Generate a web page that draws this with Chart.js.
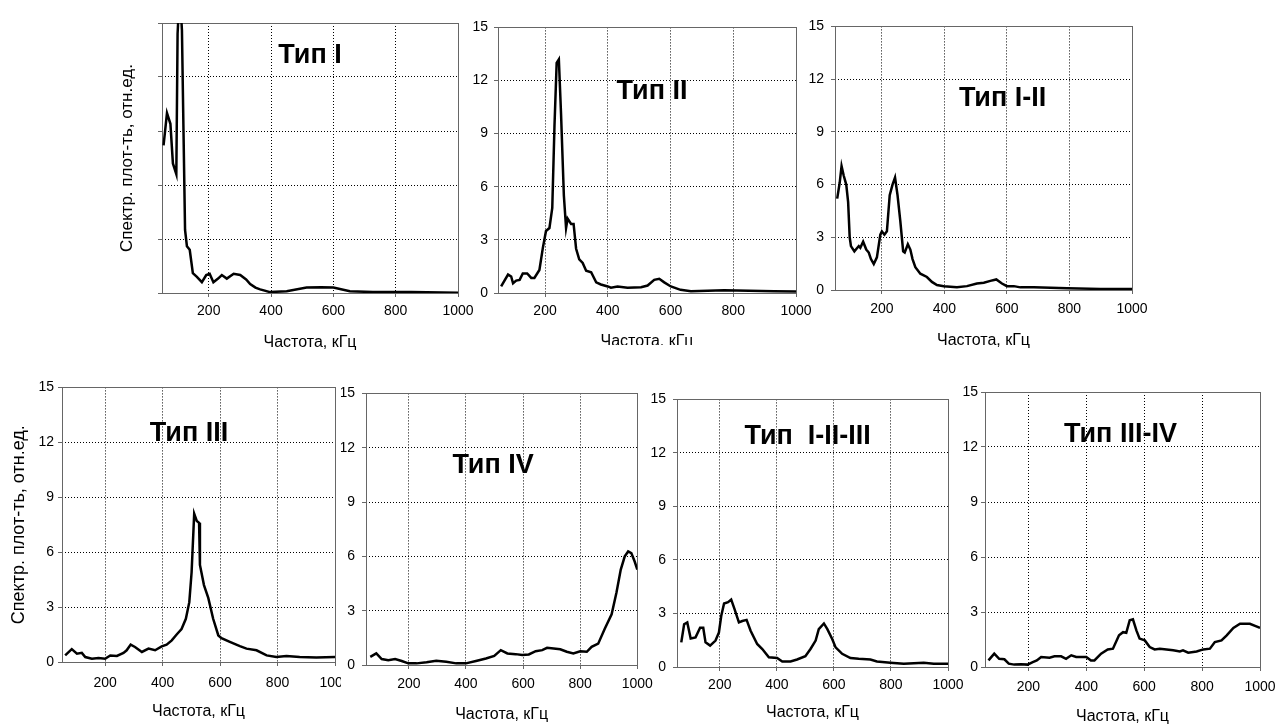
<!DOCTYPE html>
<html>
<head>
<meta charset="utf-8">
<script src="https://cdn.jsdelivr.net/npm/chart.js@4.4.1/dist/chart.umd.min.js"></script>
<style>
  html, body { margin: 0; padding: 0; background: #fff; }
  body { width: 1277px; height: 725px; position: relative; overflow: hidden; }
  .panel { position: absolute; overflow: hidden; }
  .panel canvas { display: block; }
</style>
</head>
<body>
<script>
// Spectral density curves (frequency in kHz, density in rel. units)
const type1Freq = [55, 66, 77, 85, 96, 100, 104, 110, 114, 119, 124, 130, 139, 149, 162, 178, 192, 203, 215, 230, 242, 258, 280, 301, 320, 333, 350, 365, 397, 450, 514, 560, 600, 653, 727, 850, 1000];
const type1Val = [8.2, 10.0, 9.4, 7.2, 6.6, 14.4, 15.8, 15.8, 14.6, 9.0, 3.5, 2.6, 2.4, 1.1, 0.9, 0.6, 1.0, 1.07, 0.6, 0.8, 1.0, 0.8, 1.07, 1.0, 0.75, 0.5, 0.3, 0.2, 0.05, 0.1, 0.3, 0.32, 0.3, 0.1, 0.05, 0.05, 0.02];

const type2Freq = [60, 82, 92, 98, 108, 119, 129, 143, 156, 166, 182, 193, 203, 214, 223, 230, 237, 244, 251, 260, 267, 272, 283, 291, 299, 309, 320, 331, 347, 363, 378, 400, 410, 431, 463, 506, 527, 548, 564, 580, 601, 632, 665, 771, 930, 1000];
const type2Val = [0.37, 1.04, 0.93, 0.55, 0.7, 0.74, 1.1, 1.1, 0.85, 0.85, 1.3, 2.55, 3.5, 3.67, 4.8, 9.4, 13.0, 13.2, 10.1, 5.5, 3.67, 4.2, 3.9, 3.9, 2.5, 1.9, 1.7, 1.26, 1.17, 0.6, 0.48, 0.37, 0.3, 0.37, 0.3, 0.33, 0.42, 0.74, 0.8, 0.6, 0.37, 0.18, 0.1, 0.15, 0.1, 0.08];

const type12Freq = [57, 65, 71, 78, 86, 92, 97, 101, 112, 126, 131, 140, 150, 158, 165, 174, 184, 195, 200, 208, 216, 225, 234, 242, 250, 259, 268, 273, 283, 291, 298, 307, 323, 344, 360, 376, 398, 440, 472, 504, 526, 547, 566, 584, 600, 622, 643, 686, 793, 899, 1000];
const type12Val = [5.2, 6.1, 7.05, 6.5, 6.0, 5.0, 3.0, 2.5, 2.2, 2.5, 2.4, 2.75, 2.3, 2.13, 1.76, 1.48, 1.86, 3.15, 3.34, 3.15, 3.34, 5.4, 6.0, 6.4, 5.4, 3.9, 2.2, 2.13, 2.6, 2.3, 1.76, 1.3, 0.93, 0.74, 0.46, 0.28, 0.22, 0.15, 0.22, 0.37, 0.41, 0.52, 0.6, 0.37, 0.22, 0.22, 0.15, 0.15, 0.1, 0.06, 0.05];

const type3Freq = [61, 84, 102, 119, 131, 154, 177, 200, 218, 241, 264, 275, 289, 304, 328, 351, 374, 397, 414, 432, 449, 466, 481, 493, 501, 510, 519, 527, 530, 544, 559, 576, 594, 605, 634, 669, 692, 727, 762, 796, 831, 877, 935, 1000];
const type3Val = [0.36, 0.7, 0.45, 0.5, 0.27, 0.18, 0.22, 0.18, 0.36, 0.33, 0.5, 0.64, 0.95, 0.82, 0.55, 0.73, 0.64, 0.85, 0.95, 1.18, 1.5, 1.8, 2.36, 3.27, 4.9, 8.1, 7.7, 7.6, 5.3, 4.2, 3.5, 2.36, 1.45, 1.3, 1.1, 0.87, 0.73, 0.64, 0.36, 0.27, 0.33, 0.27, 0.24, 0.27];

const type4Freq = [65, 86, 105, 128, 152, 175, 198, 227, 262, 296, 331, 366, 400, 435, 470, 499, 522, 545, 574, 597, 620, 644, 667, 684, 707, 730, 753, 776, 800, 823, 840, 863, 886, 910, 927, 942, 956, 968, 979, 991, 1000];
const type4Val = [0.45, 0.64, 0.33, 0.27, 0.33, 0.22, 0.09, 0.09, 0.15, 0.24, 0.18, 0.09, 0.09, 0.22, 0.36, 0.5, 0.82, 0.64, 0.6, 0.55, 0.58, 0.76, 0.82, 0.95, 0.91, 0.87, 0.73, 0.64, 0.76, 0.73, 1.0, 1.18, 2.0, 2.8, 4.0, 5.27, 6.0, 6.27, 6.18, 5.7, 5.27];

const type123Freq = [65, 75, 86, 98, 115, 131, 142, 150, 166, 185, 197, 205, 215, 229, 240, 252, 267, 279, 294, 308, 331, 349, 372, 401, 419, 448, 471, 500, 518, 536, 547, 565, 577, 594, 606, 629, 658, 687, 728, 751, 798, 845, 915, 950, 1000];
const type123Val = [1.38, 2.4, 2.5, 1.6, 1.66, 2.2, 2.2, 1.38, 1.2, 1.48, 1.94, 2.86, 3.56, 3.63, 3.78, 3.23, 2.5, 2.58, 2.64, 2.03, 1.29, 1.01, 0.55, 0.5, 0.31, 0.31, 0.42, 0.61, 1.01, 1.48, 2.12, 2.44, 2.12, 1.57, 1.1, 0.74, 0.5, 0.46, 0.42, 0.31, 0.24, 0.18, 0.24, 0.18, 0.18];

const type34Freq = [62, 82, 99, 117, 132, 151, 174, 197, 215, 229, 244, 273, 290, 313, 330, 348, 365, 382, 400, 416, 428, 451, 474, 492, 513, 527, 538, 550, 561, 573, 584, 602, 619, 636, 654, 677, 700, 723, 734, 752, 781, 804, 827, 844, 867, 885, 908, 931, 965, 983, 1000];
const type34Val = [0.36, 0.73, 0.45, 0.42, 0.18, 0.13, 0.15, 0.13, 0.27, 0.36, 0.55, 0.51, 0.58, 0.58, 0.45, 0.64, 0.55, 0.55, 0.55, 0.36, 0.36, 0.73, 0.96, 1.0, 1.73, 1.9, 1.87, 2.55, 2.6, 2.0, 1.55, 1.45, 1.09, 0.96, 1.0, 0.96, 0.91, 0.85, 0.91, 0.78, 0.85, 0.96, 1.0, 1.36, 1.45, 1.73, 2.13, 2.36, 2.36, 2.24, 2.13];

// Axis ticks
const freqMin = 50;
const freqMax = 1000;
const freqStep = 200;
const densityMax = 15;
const densityStep = 3;

const xTitle = 'Частота, кГц';
const yTitle = 'Спектр. плот-ть, отн.ед.';

const FONT = "'Liberation Sans', Arial, sans-serif";

const rowStyle = {
    top: { tick: 14, title: 16, yTitle: 17, label: 27 },
    bottom: { tick: 14, title: 16, yTitle: 18, label: 27 }
};

// plot = chart area [l, t, r, b], box = canvas [l, t, r, b] in page pixels
const panels = [
    { label: 'Тип I', freq: type1Freq, vals: type1Val, labelAt: [525, 13.2], row: 'top',
      plot: [162, 23, 458, 293], box: [110, 13, 490, 356], yLabels: false, yGap: 10,
      tickY: 311, titleY: 343, yTitleX: 127.5 },
    { label: 'Тип II', freq: type2Freq, vals: type2Val, labelAt: [541, 11.4], row: 'top',
      plot: [498, 23, 796, 293], box: [466, 13, 828, 356], clipAt: 345, yLabels: true, yGap: 10,
      tickY: 311, titleY: 342 },
    { label: 'Тип I-II', freq: type12Freq, vals: type12Val, labelAt: [586, 10.9], row: 'top',
      plot: [835, 21, 1132, 290], box: [803, 11, 1164, 356], yLabels: true, yGap: 11,
      tickY: 309, titleY: 341 },
    { label: 'Тип III', freq: type3Freq, vals: type3Val, labelAt: [492, 12.5], row: 'bottom',
      plot: [62, 387, 335, 662], box: [0, 375, 367, 730], yLabels: true, yGap: 8,
      tickY: 683, titleY: 712, yTitleX: 19.5 },
    { label: 'Тип IV', freq: type4Freq, vals: type4Val, labelAt: [495, 11.0], row: 'bottom',
      plot: [366, 390, 640, 665], box: [341, 378, 660, 730], white: true, yLabels: true, yGap: 11,
      tickY: 684.5, titleY: 715 },
    { label: 'Тип  I-II-III', freq: type123Freq, vals: type123Val, labelAt: [508, 12.9], row: 'bottom',
      plot: [677, 396, 948, 667], box: [650, 384, 980, 730], yLabels: true, yGap: 11,
      tickY: 685, titleY: 713 },
    { label: 'Тип III-IV', freq: type34Freq, vals: type34Val, labelAt: [518, 12.7], row: 'bottom',
      plot: [985, 392, 1260, 667], box: [958, 380, 1292, 730], yLabels: true, yGap: 7,
      tickY: 687, titleY: 717 }
];

// Gray frame round the plot area, drawn over the dotted grid
const framePlugin = {
    id: 'frame',
    beforeDatasetsDraw(chart) {
        const { ctx, chartArea: a } = chart;
        const l = Math.round(a.left), t = Math.round(a.top);
        const r = Math.round(a.right), b = Math.round(a.bottom);
        ctx.save();
        ctx.setLineDash([]);
        ctx.strokeStyle = '#666';
        ctx.lineWidth = 1;
        ctx.strokeRect(l + 0.5, t + 0.5, r - l, b - t);
        ctx.restore();
    }
};

function makeChart(p) {
    const st = rowStyle[p.row];
    const [pl, pt, pr, pb] = p.plot;
    const [cl, ct, cr, cb] = p.box;
    const w = cr - cl;
    const h = cb - ct;
    const tickLen = 4;

    const wrap = document.createElement('div');
    wrap.className = 'panel';
    wrap.style.left = cl + 'px';
    wrap.style.top = ct + 'px';
    wrap.style.width = w + 'px';
    wrap.style.height = (p.clipAt ? p.clipAt - ct : h) + 'px';
    if (p.white) wrap.style.background = '#fff';
    const canvas = document.createElement('canvas');
    canvas.width = w;
    canvas.height = h;
    wrap.appendChild(canvas);
    document.body.appendChild(wrap);

    // Bold "Тип ..." caption placed in data units
    const labelPlugin = {
        id: 'typeLabel',
        afterDatasetsDraw(chart) {
            const { ctx, scales } = chart;
            ctx.save();
            ctx.font = `bold ${st.label}px ${FONT}`;
            ctx.fillStyle = '#000';
            ctx.textAlign = 'center';
            ctx.textBaseline = 'middle';
            ctx.fillText(p.label, scales.x.getPixelForValue(p.labelAt[0]), scales.y.getPixelForValue(p.labelAt[1]));
            ctx.restore();
        }
    };

    const grid = { color: '#000', lineWidth: 1, tickLength: tickLen, tickColor: '#666', tickWidth: 1, tickBorderDash: [] };
    const border = { display: false, dash: [1, 2] };

    new Chart(canvas, {
        type: 'line',
        data: {
            datasets: [{
                data: p.freq.map((f, i) => ({ x: f, y: p.vals[i] })),
                borderColor: '#000',
                borderWidth: 2.5,
                pointRadius: 0,
                tension: 0,
                fill: false
            }]
        },
        options: {
            responsive: false,
            animation: false,
            events: [],
            layout: { padding: { left: 0, top: pt - ct, right: cr - pr, bottom: 0 } },
            plugins: { legend: { display: false }, tooltip: { enabled: false } },
            scales: {
                x: {
                    type: 'linear',
                    min: freqMin,
                    max: freqMax,
                    afterBuildTicks: s => { s.ticks = s.ticks.filter(t => t.value % freqStep === 0); },
                    afterFit: s => { s.height = cb - pb; },
                    ticks: {
                        stepSize: freqStep,
                        autoSkip: false,
                        maxRotation: 0,
                        color: '#000',
                        padding: p.tickY - pb - tickLen - st.tick * 0.6,
                        font: { family: FONT, size: st.tick },
                        callback: v => String(v)
                    },
                    grid,
                    border,
                    title: {
                        display: true,
                        text: xTitle,
                        color: '#000',
                        font: { family: FONT, size: st.title },
                        padding: { top: 0, bottom: cb - p.titleY - st.title * 0.6 }
                    }
                },
                y: {
                    min: 0,
                    max: densityMax,
                    afterFit: s => { s.width = pl - cl; },
                    ticks: {
                        stepSize: densityStep,
                        display: p.yLabels,
                        color: '#000',
                        padding: p.yGap - tickLen,
                        font: { family: FONT, size: st.tick },
                        callback: v => String(v)
                    },
                    grid,
                    border,
                    title: {
                        display: p.yTitleX !== undefined,
                        text: yTitle,
                        color: '#000',
                        font: { family: FONT, size: st.yTitle },
                        padding: { top: (p.yTitleX || 0) - cl - st.yTitle * 0.6, bottom: 0 }
                    }
                }
            }
        },
        plugins: [framePlugin, labelPlugin]
    });
}

panels.forEach(makeChart);
</script>
</body>
</html>
